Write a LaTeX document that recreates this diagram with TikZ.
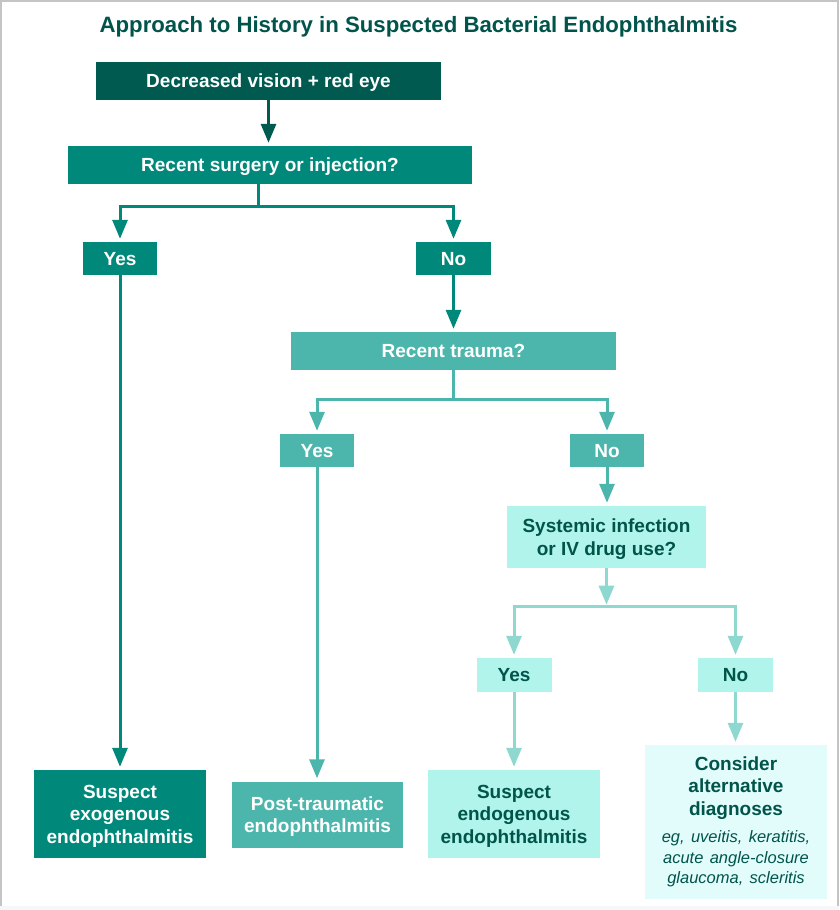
\documentclass[tikz,border=0pt]{standalone}
\usepackage{fontspec}
\setmainfont{Liberation Sans}
\usetikzlibrary{arrows.meta}
\definecolor{cA}{HTML}{005A50}
\definecolor{cB}{HTML}{00897B}
\definecolor{cC}{HTML}{4DB6AC}
\definecolor{cD}{HTML}{B1F4EC}
\definecolor{cDl}{HTML}{8ED8CF}
\definecolor{cE}{HTML}{E1FCFB}
\definecolor{txt}{HTML}{00544A}
\definecolor{framec}{HTML}{C4C4C4}
\definecolor{bandc}{HTML}{F6F7FA}
\begin{document}
\begin{tikzpicture}[x=1pt,y=-1pt,
 box/.style={draw=none, inner sep=0pt, align=center, text depth=0pt, font=\bfseries\fontsize{19}{22.5}\selectfont},
 wbox/.style={box, text=white},
 dbox/.style={box, text=txt},
 conn/.style={line width=3pt},
 arr/.style={conn, -{Triangle[length=19pt,width=15pt]}, shorten >=3pt},
]
\useasboundingbox (0,0) rectangle (839,910);
\fill[bandc] (0,905.5) rectangle (839,910);
\draw[framec, line width=1.5pt] (0.75,905.5) -- (0.75,0.75) -- (838,0.75) -- (838,905.5);

\node[font=\bfseries\fontsize{22.2}{26}\selectfont, text=txt, anchor=base] (title) at (418.5,32.5) {Approach to History in Suspected Bacterial Endophthalmitis};

\node[wbox, fill=cA, minimum width=345pt, minimum height=38pt] (n1) at (268.5,81) {Decreased vision + red eye};
\node[wbox, fill=cB, minimum width=404pt, minimum height=38pt] (n2) at (270,165) {Recent surgery or injection?};
\node[wbox, fill=cB, minimum width=74pt, minimum height=33pt] (y1) at (120,258.5) {Yes};
\node[wbox, fill=cB, minimum width=75pt, minimum height=33pt] (no1) at (453.5,258.5) {No};
\node[wbox, fill=cC, minimum width=325pt, minimum height=38pt] (n5) at (453.5,351) {Recent trauma?};
\node[wbox, fill=cC, minimum width=74pt, minimum height=33pt] (y2) at (317,450.5) {Yes};
\node[wbox, fill=cC, minimum width=74pt, minimum height=33pt] (no2) at (607,450.5) {No};
\node[dbox, fill=cD, minimum width=199pt, minimum height=62pt] (n8) at (606.5,537) {Systemic infection\\or IV drug use?};
\node[dbox, fill=cD, minimum width=75pt, minimum height=34pt] (y3) at (514,675) {Yes};
\node[dbox, fill=cD, minimum width=75pt, minimum height=34pt] (no3) at (735.5,675) {No};
\node[wbox, fill=cB, minimum width=172pt, minimum height=88pt] (n11) at (120,814) {Suspect\\exogenous\\endophthalmitis};
\node[wbox, fill=cC, minimum width=171pt, minimum height=66pt] (n12) at (317.5,814.5) {Post-traumatic\\endophthalmitis};
\node[dbox, fill=cD, minimum width=172pt, minimum height=88pt] (n13) at (514,814) {Suspect\\endogenous\\endophthalmitis};
\node[dbox, fill=cE, text depth={}, text width=182pt, minimum height=154pt] (n14) at (736,822) {Consider\\alternative\\diagnoses\par\vspace{7pt}{\mdseries\itshape\fontsize{16.5}{20.5}\selectfont eg, uveitis, keratitis,\\acute angle-closure\\glaucoma, scleritis\par}};

\draw[arr, draw=cA] (n1.south) -- (n1.south |- n2.north);
\draw[conn, draw=cB] ([xshift=-12pt]n2.south) -- ++(0,22) coordinate (j2);
\draw[arr, draw=cB] (j2) -| (y1.north);
\draw[arr, draw=cB] (j2) -| (no1.north);
\draw[arr, draw=cB] (no1.south) -- (no1.south |- n5.north);
\draw[conn, draw=cC] (n5.south) -- ++(0,29) coordinate (j5);
\draw[arr, draw=cC] (j5) -| (y2.north);
\draw[arr, draw=cC] (j5) -| (no2.north);
\draw[arr, draw=cC] (no2.south) -- (no2.south |- n8.north);
\draw[arr, draw=cDl, shorten >=1.5pt] (n8.south) -- ++(0,38) coordinate (j8);
\draw[arr, draw=cDl] (j8) -| (y3.north);
\draw[arr, draw=cDl] (j8) -| (no3.north);
\draw[arr, draw=cB] (y1.south) -- (y1.south |- n11.north);
\draw[arr, draw=cC] (y2.south) -- (y2.south |- n12.north);
\draw[arr, draw=cDl] (y3.south) -- (y3.south |- n13.north);
\draw[arr, draw=cDl] (no3.south) -- (no3.south |- n14.north);
\end{tikzpicture}
\end{document}
